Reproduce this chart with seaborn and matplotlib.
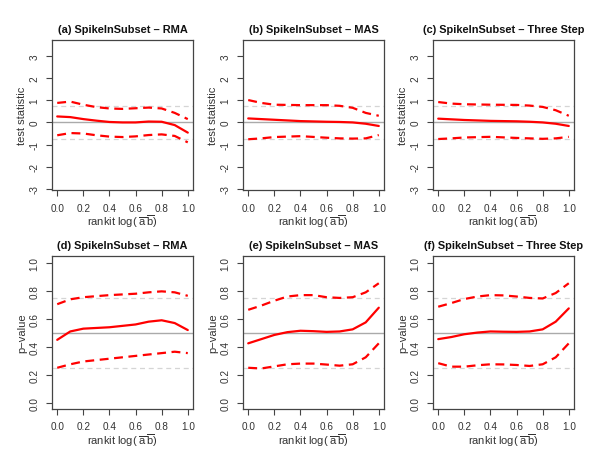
import numpy as np
import pandas as pd
import matplotlib
matplotlib.use("Agg")
import matplotlib.pyplot as plt
import seaborn as sns

# ---- data ----
x_a = [0.0, 0.1, 0.2, 0.3, 0.4, 0.5, 0.6, 0.7, 0.8, 0.9, 1.0]
a_mean = [0.27, 0.24, 0.15, 0.08, 0.02, 0.0, 0.0, 0.04, 0.03, -0.12, -0.46]
a_up = [0.88, 0.94, 0.80, 0.69, 0.63, 0.61, 0.64, 0.67, 0.63, 0.43, 0.15]
a_lo = [-0.58, -0.48, -0.50, -0.58, -0.64, -0.66, -0.63, -0.57, -0.54, -0.61, -0.90]

x_b = [0.0, 0.1, 0.2, 0.4, 0.6, 0.7, 0.8, 0.9, 1.0]
b_mean = [0.18, 0.15, 0.12, 0.06, 0.03, 0.02, 0.0, -0.06, -0.16]
b_up = [1.01, 0.88, 0.80, 0.78, 0.78, 0.75, 0.66, 0.43, 0.30]
b_lo = [-0.76, -0.72, -0.66, -0.62, -0.69, -0.72, -0.73, -0.72, -0.57]

x_c = [0.0, 0.1, 0.2, 0.4, 0.6, 0.7, 0.8, 0.9, 1.0]
c_mean = [0.17, 0.14, 0.11, 0.07, 0.05, 0.03, 0.0, -0.06, -0.16]
c_up = [0.92, 0.85, 0.82, 0.80, 0.79, 0.76, 0.70, 0.55, 0.30]
c_lo = [-0.75, -0.72, -0.68, -0.65, -0.70, -0.72, -0.74, -0.72, -0.65]

x_d = [0.0, 0.1, 0.2, 0.4, 0.6, 0.7, 0.8, 0.9, 1.0]
d_mean = [0.45, 0.51, 0.53, 0.54, 0.56, 0.58, 0.59, 0.57, 0.52]
d_up = [0.705, 0.74, 0.755, 0.77, 0.78, 0.79, 0.797, 0.79, 0.765]
d_lo = [0.25, 0.275, 0.295, 0.315, 0.335, 0.345, 0.355, 0.365, 0.355]

x_e = [0.0, 0.1, 0.2, 0.3, 0.4, 0.5, 0.6, 0.7, 0.8, 0.9, 1.0]
e_mean = [0.425, 0.455, 0.485, 0.505, 0.515, 0.512, 0.507, 0.51, 0.525, 0.575, 0.68]
e_up = [0.665, 0.695, 0.73, 0.76, 0.77, 0.77, 0.755, 0.75, 0.755, 0.79, 0.855]
e_lo = [0.25, 0.245, 0.26, 0.275, 0.28, 0.28, 0.273, 0.265, 0.275, 0.325, 0.425]

x_f = [0.0, 0.1, 0.2, 0.3, 0.4, 0.5, 0.6, 0.7, 0.8, 0.9, 1.0]
f_mean = [0.455, 0.47, 0.49, 0.502, 0.51, 0.508, 0.507, 0.51, 0.525, 0.58, 0.675]
f_up = [0.687, 0.713, 0.742, 0.76, 0.77, 0.768, 0.76, 0.75, 0.746, 0.785, 0.855]
f_lo = [0.283, 0.258, 0.258, 0.268, 0.275, 0.274, 0.27, 0.263, 0.275, 0.325, 0.425]

titles = ["(a) SpikeInSubset \u2013 RMA", "(b) SpikeInSubset \u2013 MAS",
          "(c) SpikeInSubset \u2013 Three Step", "(d) SpikeInSubset \u2013 RMA",
          "(e) SpikeInSubset \u2013 MAS", "(f) SpikeInSubset \u2013 Three Step"]
ylabels = ["test statistic", "p\u2212value"]
xticks = [0.0, 0.2, 0.4, 0.6, 0.8, 1.0]
yticks_top = [-3, -2, -1, 0, 1, 2, 3]
yticks_bot = [0.0, 0.2, 0.4, 0.6, 0.8, 1.0]

panels = [
    (x_a, a_mean, a_up, a_lo), (x_b, b_mean, b_up, b_lo), (x_c, c_mean, c_up, c_lo),
    (x_d, d_mean, d_up, d_lo), (x_e, e_mean, e_up, e_lo), (x_f, f_mean, f_up, f_lo),
]

sns.set_theme(style="ticks")
plt.rcParams["font.family"] = ["Liberation Sans", "DejaVu Sans"]
plt.rcParams["mathtext.fontset"] = "custom"
plt.rcParams["mathtext.rm"] = "Liberation Sans"
plt.rcParams["mathtext.it"] = "Liberation Sans"

W, H = 600, 464
fig = plt.figure(figsize=(W / 100, H / 100), dpi=100)

lefts = [52, 243, 433]
width = 141
rows = [(41, 191), (257, 410)]
edge = "#444444"
txt = "#333333"

for i, (xs, mean, up, lo) in enumerate(panels):
    r, c = divmod(i, 3)
    top, bot = rows[r]
    ax = fig.add_axes([lefts[c] / W, (H - bot) / H, width / W, (bot - top) / H])
    df = pd.DataFrame({"x": xs, "mean": mean, "up": up, "lo": lo})
    if r == 0:
        ax.axhline(0, color="#aaaaaa", lw=1.0, zorder=1)
        ax.axhline(0.75, color="#d5d5d5", lw=0.9, ls=(0, (4, 3)), zorder=1)
        ax.axhline(-0.75, color="#d5d5d5", lw=0.9, ls=(0, (4, 3)), zorder=1)
    else:
        ax.axhline(0.5, color="#aaaaaa", lw=1.0, zorder=1)
        ax.axhline(0.75, color="#d5d5d5", lw=0.9, ls=(0, (4, 3)), zorder=1)
        ax.axhline(0.25, color="#d5d5d5", lw=0.9, ls=(0, (4, 3)), zorder=1)
    sns.lineplot(data=df, x="x", y="mean", ax=ax, color="#ff0000", lw=1.6, zorder=3)
    sns.lineplot(data=df, x="x", y="up", ax=ax, color="#ff0000", lw=1.6,
                 zorder=3).lines[-1].set_dashes([4, 2.5])
    sns.lineplot(data=df, x="x", y="lo", ax=ax, color="#ff0000", lw=1.6,
                 zorder=3).lines[-1].set_dashes([4, 2.5])
    ax.set_xlim(-0.04, 1.04)
    ax.set_xticks(xticks)
    ax.set_xticklabels([f"{v:.1f}" for v in xticks])
    if r == 0:
        ax.set_ylim(-3.05, 3.72)
        ax.set_yticks(yticks_top)
        ax.set_yticklabels([str(v) for v in yticks_top])
    else:
        ax.set_ylim(-0.045, 1.05)
        ax.set_yticks(yticks_bot)
        ax.set_yticklabels([f"{v:.1f}" for v in yticks_bot])
    for lab in ax.get_yticklabels():
        lab.set_rotation(90)
        lab.set_va("center")
    ax.tick_params(axis="both", direction="out", length=4, width=0.8, color=edge,
                   labelsize=7.2, labelcolor=txt, pad=5)
    for s in ax.spines.values():
        s.set_visible(True)
        s.set_color(edge)
        s.set_linewidth(0.9)
    ax.set_xlabel(r"rankit log( $\overline{\mathregular{a}}\,\overline{\mathregular{b}}$)",
                  fontsize=8, color=txt, labelpad=0)
    ax.set_ylabel(ylabels[r], fontsize=8, color=txt)
    ax.yaxis.set_label_coords(-0.175, 0.5)
    ax.set_title(titles[i], fontsize=7.9, fontweight="bold", color="#111111", pad=6)
    ax.set_facecolor("white")

fig.savefig("out.png", dpi=100, facecolor="white")
